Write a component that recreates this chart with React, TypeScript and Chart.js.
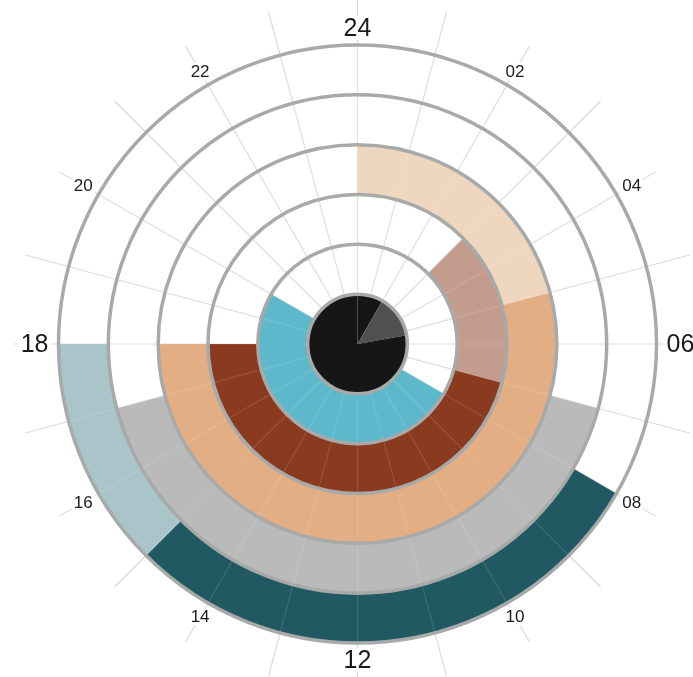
import React, { useEffect, useRef } from "react";
import { Chart, ArcElement, DoughnutController } from "chart.js";

Chart.register(ArcElement, DoughnutController);

// Tick labels around the clock face (every two hours, starting at the top)
const tickLabels = ["24", "02", "04", "06", "08", "10", "12", "14", "16", "18", "20", "22"];
const tickHours = [0, 2, 4, 6, 8, 10, 12, 14, 16, 18, 20, 22];
const majorHours = [0, 6, 12, 18];

// Ring segments: boundaries in hours (clockwise from 24:00) and their colours
// Core disc
const coreEdges = [0, 2, 5.33, 24];
const coreColors = ["#161616", "#505050", "#161616"];
// Ring 2
const ring2Edges = [0, 8, 20, 24];
const ring2Colors = ["rgba(0,0,0,0)", "#5cb8ca", "rgba(0,0,0,0)"];
// Ring 3
const ring3Edges = [0, 3, 7, 18, 24];
const ring3Colors = ["rgba(0,0,0,0)", "#c49c8e", "#8a3a1f", "rgba(0,0,0,0)"];
// Ring 4
const ring4Edges = [0, 5, 18, 24];
const ring4Colors = ["#efd6bf", "#e3ae84", "rgba(0,0,0,0)"];
// Ring 5
const ring5Edges = [0, 7, 17, 24];
const ring5Colors = ["rgba(0,0,0,0)", "#bababa", "rgba(0,0,0,0)"];
// Ring 6 (outermost)
const ring6Edges = [0, 8, 15, 18, 24];
const ring6Colors = ["rgba(0,0,0,0)", "#215963", "#a9c5ca", "rgba(0,0,0,0)"];

const durations = (edges: number[]) => edges.slice(1).map((e, i) => e - edges[i]);

const clockPlugin = {
  id: "clockFace",
  beforeDatasetsDraw(chart: any) {
    const ctx = chart.ctx;
    const outer = chart.getDatasetMeta(0).data[0];
    const core = chart.getDatasetMeta(chart.data.datasets.length - 1).data[0];
    const { x, y, outerRadius } = outer;
    const r0 = core.outerRadius;
    ctx.save();
    ctx.strokeStyle = "#dcdcdc";
    ctx.lineWidth = 1.2;
    for (let h = 0; h < 24; h++) {
      const a = (h / 24) * Math.PI * 2 - Math.PI / 2;
      ctx.beginPath();
      ctx.moveTo(x + Math.cos(a) * r0, y + Math.sin(a) * r0);
      ctx.lineTo(x + Math.cos(a) * (outerRadius + 45), y + Math.sin(a) * (outerRadius + 45));
      ctx.stroke();
    }
    ctx.restore();
  },
  afterDatasetsDraw(chart: any) {
    const ctx = chart.ctx;
    const n = chart.data.datasets.length;
    const outer = chart.getDatasetMeta(0).data[0];
    const core = chart.getDatasetMeta(n - 1).data[0];
    const { x, y, outerRadius } = outer;
    const r0 = core.outerRadius;
    ctx.save();
    // faint spokes over the coloured bands
    ctx.strokeStyle = "rgba(255,255,255,0.12)";
    ctx.lineWidth = 1.2;
    for (let h = 0; h < 24; h++) {
      const a = (h / 24) * Math.PI * 2 - Math.PI / 2;
      ctx.beginPath();
      ctx.moveTo(x + Math.cos(a) * r0, y + Math.sin(a) * r0);
      ctx.lineTo(x + Math.cos(a) * outerRadius, y + Math.sin(a) * outerRadius);
      ctx.stroke();
    }
    // ring outlines
    ctx.strokeStyle = "#a8aaaa";
    ctx.lineWidth = 3.5;
    for (let i = 0; i < n; i++) {
      const arc = chart.getDatasetMeta(i).data[0];
      ctx.beginPath();
      ctx.arc(x, y, arc.outerRadius, 0, Math.PI * 2);
      ctx.stroke();
    }
    // hour labels
    ctx.textAlign = "center";
    ctx.textBaseline = "middle";
    tickLabels.forEach((lab, i) => {
      const h = tickHours[i];
      const major = majorHours.includes(h);
      const size = major ? 25 : 17;
      ctx.font = `${size}px "Liberation Sans", Arial, sans-serif`;
      const w = ctx.measureText(lab).width;
      const th = size * 0.72;
      const a = (h / 24) * Math.PI * 2 - Math.PI / 2;
      const base = major ? outerRadius + 6 : outerRadius + 2;
      const r = base + Math.abs(Math.cos(a)) * (w / 2 + 4) + Math.abs(Math.sin(a)) * (th / 2 + 2);
      const lx = x + Math.cos(a) * r;
      const ly = y + Math.sin(a) * r;
      ctx.fillStyle = "#ffffff";
      ctx.fillRect(lx - w / 2 - 2, ly - th / 2 - 3, w + 4, th + 6);
      ctx.fillStyle = "#1b1b1b";
      ctx.fillText(lab, lx, ly + 1);
    });
    ctx.restore();
  },
};

export default function App() {
  const ref = useRef<HTMLCanvasElement>(null);
  useEffect(() => {
    document.body.style.margin = "0";
    const rings = [
      [ring6Edges, ring6Colors],
      [ring5Edges, ring5Colors],
      [ring4Edges, ring4Colors],
      [ring3Edges, ring3Colors],
      [ring2Edges, ring2Colors],
      [coreEdges, coreColors],
    ] as [number[], string[]][];
    const chart = new Chart(ref.current!, {
      type: "doughnut",
      data: {
        labels: ["a", "b", "c", "d"],
        datasets: rings.map(([edges, colors]) => ({
          data: durations(edges),
          backgroundColor: colors,
          borderWidth: 0,
          hoverOffset: 0,
          spacing: 0,
        })),
      },
      options: {
        responsive: false,
        animation: false,
        devicePixelRatio: 1,
        cutout: 0,
        rotation: 0,
        circumference: 360,
        events: [],
        layout: { padding: { left: 58, right: 36, top: 45, bottom: 34 } },
      },
      plugins: [clockPlugin],
    } as any);
    return () => chart.destroy();
  }, []);
  return (
    <div style={{ width: 693, height: 677, background: "#ffffff" }}>
      <canvas ref={ref} width={693} height={677} />
    </div>
  );
}
